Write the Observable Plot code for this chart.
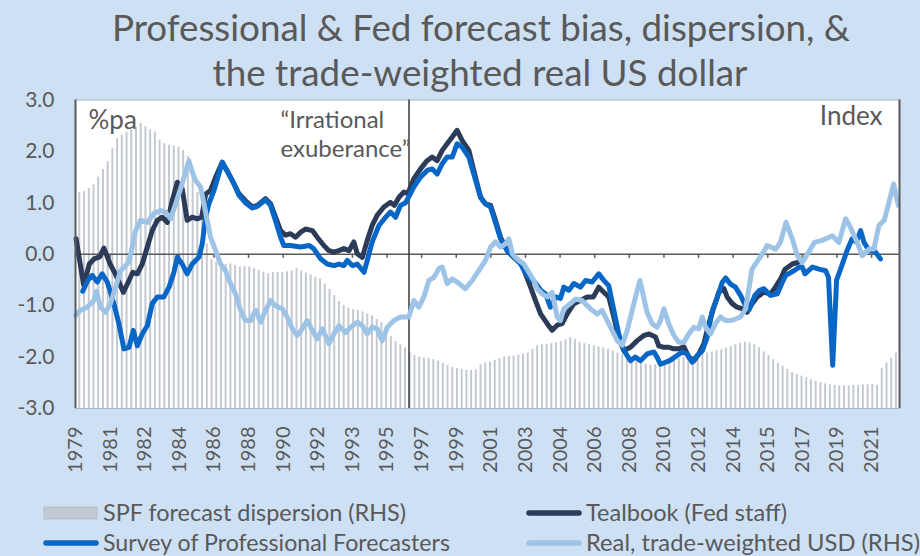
<!DOCTYPE html>
<html>
<head>
<meta charset="utf-8">
<script src="https://cdn.jsdelivr.net/npm/d3@7"></script>
<script src="https://cdn.jsdelivr.net/npm/@observablehq/plot@0.6"></script>
<style>
  html, body { margin: 0; padding: 0; background: #cee0f3; }
  #wrap { width: 920px; height: 556px; position: relative; overflow: hidden; background: #cee0f3; font-family: Lato, "Open Sans", sans-serif; color: #595959; }
  svg { display: block; }
  #title { position: absolute; left: 0; top: 0; z-index: 2; }
  #chart { position: absolute; left: 0; top: 80px; z-index: 1; }
  #legend { position: absolute; left: 0; top: 495px; }
</style>
</head>
<body>
<div id="wrap">
  <svg id="title" width="920" height="98">
    <text x="481" y="41" text-anchor="middle" font-family="Lato" font-size="36" fill="#595959" textLength="738" lengthAdjust="spacingAndGlyphs">Professional &amp; Fed forecast bias, dispersion, &amp;</text>
    <text x="480" y="86" text-anchor="middle" font-family="Lato" font-size="36" fill="#595959" textLength="535" lengthAdjust="spacingAndGlyphs">the trade-weighted real US dollar</text>
  </svg>
  <div id="chart"></div>
  <svg id="legend" width="920" height="61"></svg>
</div>
<script>
// ---------- DATA (decimal year, value on the left-hand %pa scale) ----------
const seriesNames = ["SPF forecast dispersion (RHS)", "Tealbook (Fed staff)", "Survey of Professional Forecasters", "Real, trade-weighted USD (RHS)"];

const xTickLabels = ["1979","1981","1982","1984","1986","1988","1990","1992","1993","1995","1997","1999","2001","2003","2004","2006","2008","2010","2012","2014","2015","2017","2019","2021"];
const yTicks = [-3, -2, -1, 0, 1, 2, 3];

// Tealbook (Fed staff) forecast bias
const tealbook = [[1979.2,0.30],[1979.6,-0.60],[1979.9,-0.19],[1980.15,-0.09],[1980.45,-0.05],[1980.67,0.12],[1981.0,-0.19],[1981.3,-0.40],[1981.7,-0.74],[1982.0,-0.51],[1982.2,-0.35],[1982.44,-0.38],[1982.7,-0.19],[1982.97,0.14],[1983.23,0.46],[1983.5,0.66],[1983.76,0.72],[1984.03,0.62],[1984.29,1.04],[1984.56,1.40],[1984.82,1.27],[1985.08,0.66],[1985.35,0.72],[1985.61,0.69],[1985.85,0.72],[1986.06,1.17],[1986.32,1.24],[1986.59,1.50],[1986.94,1.79],[1987.29,1.56],[1987.56,1.37],[1987.82,1.18],[1988.17,1.04],[1988.53,0.92],[1988.8,0.95],[1989.23,1.08],[1989.5,0.98],[1989.76,0.72],[1990.03,0.46],[1990.29,0.37],[1990.55,0.40],[1990.82,0.33],[1991.09,0.43],[1991.35,0.49],[1991.71,0.46],[1991.97,0.33],[1992.32,0.17],[1992.59,0.07],[1992.85,0.04],[1993.12,0.07],[1993.38,0.11],[1993.65,0.07],[1993.91,0.24],[1994.09,0.01],[1994.36,-0.06],[1994.62,0.27],[1994.88,0.56],[1995.15,0.76],[1995.5,0.92],[1995.85,1.01],[1996.05,0.95],[1996.3,1.11],[1996.56,1.21],[1996.77,1.18],[1997.09,1.47],[1997.44,1.66],[1997.79,1.82],[1998.06,1.89],[1998.32,1.82],[1998.59,2.02],[1998.85,2.15],[1999.12,2.28],[1999.38,2.41],[1999.65,2.21],[2000.0,2.02],[2000.26,1.63],[2000.62,1.11],[2000.88,0.98],[2001.15,0.95],[2001.41,0.66],[2001.68,0.33],[2002.03,0.07],[2002.38,-0.06],[2002.74,-0.15],[2003.0,-0.38],[2003.27,-0.64],[2003.53,-0.90],[2003.8,-1.16],[2004.15,-1.35],[2004.41,-1.48],[2004.68,-1.38],[2004.94,-1.35],[2005.21,-1.16],[2005.56,-0.96],[2005.91,-0.90],[2006.27,-0.83],[2006.6,-0.83],[2006.88,-0.64],[2007.15,-0.74],[2007.41,-0.83],[2007.68,-1.22],[2007.94,-1.64],[2008.21,-1.87],[2008.56,-1.81],[2008.92,-1.68],[2009.27,-1.58],[2009.55,-1.55],[2009.89,-1.61],[2010.06,-1.78],[2010.33,-1.81],[2010.6,-1.81],[2010.86,-1.84],[2011.12,-1.84],[2011.39,-1.80],[2011.65,-2.0],[2011.92,-2.07],[2012.18,-1.94],[2012.45,-1.74],[2012.71,-1.35],[2012.98,-1.03],[2013.24,-0.74],[2013.51,-0.67],[2013.68,-0.83],[2013.95,-0.96],[2014.21,-1.03],[2014.48,-1.06],[2014.74,-1.13],[2015.01,-0.96],[2015.27,-0.83],[2015.62,-0.74],[2015.98,-0.77],[2016.24,-0.64],[2016.51,-0.48],[2016.75,-0.29],[2017.13,-0.19],[2017.42,-0.16]];

// Survey of Professional Forecasters forecast bias
const spf = [[1979.55,-0.72],[1979.8,-0.52],[1980.05,-0.41],[1980.32,-0.54],[1980.58,-0.38],[1980.85,-0.54],[1981.2,-0.96],[1981.47,-1.36],[1981.73,-1.84],[1982.0,-1.81],[1982.23,-1.48],[1982.44,-1.78],[1982.7,-1.55],[1982.97,-1.39],[1983.23,-0.96],[1983.5,-0.83],[1983.85,-0.83],[1984.12,-0.64],[1984.38,-0.35],[1984.56,-0.06],[1984.82,-0.19],[1985.08,-0.38],[1985.35,-0.19],[1985.7,-0.06],[1985.88,0.20],[1986.06,0.72],[1986.23,0.98],[1986.5,1.24],[1986.94,1.79],[1987.29,1.56],[1987.56,1.37],[1987.82,1.15],[1988.17,1.0],[1988.53,0.90],[1988.8,0.93],[1989.23,1.06],[1989.5,0.95],[1989.76,0.65],[1990.03,0.33],[1990.2,0.17],[1990.55,0.17],[1991.09,0.14],[1991.55,0.17],[1991.8,0.10],[1992.15,-0.09],[1992.5,-0.19],[1992.85,-0.22],[1993.12,-0.19],[1993.38,-0.22],[1993.56,-0.12],[1993.83,-0.22],[1994.09,-0.19],[1994.45,-0.35],[1994.62,-0.12],[1994.88,0.24],[1995.24,0.56],[1995.59,0.72],[1995.85,0.82],[1996.12,0.72],[1996.38,0.95],[1996.65,1.0],[1996.85,1.14],[1997.09,1.31],[1997.44,1.50],[1997.79,1.63],[1998.06,1.66],[1998.32,1.56],[1998.59,1.76],[1998.85,1.89],[1999.12,1.89],[1999.38,2.15],[1999.65,2.08],[2000.0,1.89],[2000.26,1.56],[2000.62,1.11],[2000.88,0.98],[2001.15,0.92],[2001.41,0.62],[2001.68,0.30],[2002.03,0.07],[2002.38,-0.06],[2002.74,-0.19],[2003.09,-0.41],[2003.35,-0.51],[2003.55,-0.57],[2003.8,-0.70],[2004.06,-0.77],[2004.32,-1.03],[2004.59,-0.83],[2004.85,-0.86],[2005.03,-0.64],[2005.3,-0.70],[2005.56,-0.57],[2005.91,-0.64],[2006.18,-0.51],[2006.53,-0.54],[2006.88,-0.38],[2007.15,-0.51],[2007.41,-0.61],[2007.68,-1.09],[2007.94,-1.55],[2008.21,-1.87],[2008.56,-2.07],[2008.82,-2.0],[2009.09,-2.07],[2009.44,-1.94],[2009.8,-1.90],[2009.97,-2.0],[2010.15,-2.14],[2010.42,-2.1],[2010.68,-2.06],[2011.03,-1.97],[2011.3,-1.90],[2011.56,-1.94],[2011.83,-2.10],[2012.1,-1.97],[2012.36,-1.88],[2012.62,-1.62],[2012.89,-1.10],[2013.15,-0.85],[2013.42,-0.55],[2013.6,-0.46],[2013.86,-0.58],[2014.12,-0.64],[2014.39,-0.80],[2014.65,-1.0],[2014.84,-1.08],[2015.15,-0.80],[2015.4,-0.70],[2015.63,-0.67],[2015.98,-0.80],[2016.34,-0.77],[2016.6,-0.55],[2016.78,-0.41],[2017.22,-0.32],[2017.5,-0.25],[2017.66,-0.25],[2017.8,-0.38],[2018.2,-0.25],[2018.55,-0.29],[2018.9,-0.32],[2019.05,-0.45],[2019.27,-2.16],[2019.48,-0.50],[2019.69,-0.29],[2020.04,0.08],[2020.3,0.30],[2020.52,0.24],[2020.75,0.46],[2020.93,0.23],[2021.2,0.07],[2021.5,0.06],[2021.8,-0.09]];

// Real, trade-weighted USD (RHS), drawn on the common scale
const realUSD = [[1979.17,-1.19],[1979.43,-1.09],[1979.78,-1.03],[1980.14,-0.90],[1980.28,-0.72],[1980.49,-1.03],[1980.76,-1.13],[1981.02,-0.96],[1981.29,-0.64],[1981.55,-0.32],[1981.82,-0.22],[1982.0,-0.15],[1982.17,0.14],[1982.35,0.46],[1982.61,0.66],[1982.97,0.62],[1983.32,0.79],[1983.67,0.85],[1983.93,0.82],[1984.2,0.69],[1984.47,0.98],[1984.73,1.27],[1985.0,1.60],[1985.17,1.82],[1985.35,1.60],[1985.53,1.43],[1985.79,1.31],[1985.97,0.98],[1986.14,0.66],[1986.32,0.33],[1986.59,0.07],[1986.85,-0.19],[1987.11,-0.32],[1987.38,-0.57],[1987.64,-0.77],[1987.91,-1.09],[1988.17,-1.29],[1988.44,-1.29],[1988.7,-1.09],[1988.97,-1.32],[1989.23,-1.09],[1989.5,-0.90],[1989.76,-1.0],[1990.12,-1.06],[1990.38,-1.22],[1990.65,-1.45],[1990.91,-1.58],[1991.18,-1.45],[1991.44,-1.29],[1991.71,-1.48],[1991.97,-1.65],[1992.24,-1.45],[1992.59,-1.74],[1992.85,-1.55],[1993.12,-1.39],[1993.47,-1.52],[1993.74,-1.42],[1994.09,-1.32],[1994.36,-1.39],[1994.62,-1.55],[1994.88,-1.42],[1995.15,-1.45],[1995.41,-1.68],[1995.68,-1.42],[1996.03,-1.29],[1996.38,-1.22],[1996.82,-1.22],[1997.09,-0.90],[1997.35,-1.03],[1997.62,-0.83],[1997.88,-0.51],[1998.15,-0.45],[1998.41,-0.28],[1998.59,-0.25],[1998.85,-0.57],[1999.12,-0.48],[1999.38,-0.54],[1999.82,-0.67],[2000.18,-0.51],[2000.53,-0.32],[2000.88,-0.12],[2001.15,0.14],[2001.41,0.24],[2001.68,0.14],[2001.94,0.20],[2002.12,0.30],[2002.3,0.01],[2002.47,-0.06],[2002.65,-0.12],[2002.91,-0.19],[2003.18,-0.35],[2003.44,-0.51],[2003.62,-0.67],[2003.88,-0.77],[2004.15,-0.83],[2004.41,-0.74],[2004.68,-1.22],[2004.85,-1.29],[2005.03,-1.06],[2005.38,-0.96],[2005.65,-0.87],[2006.0,-0.90],[2006.27,-1.0],[2006.53,-1.09],[2006.8,-1.16],[2007.06,-1.09],[2007.33,-1.29],[2007.59,-1.48],[2007.86,-1.68],[2008.12,-1.77],[2008.39,-1.48],[2008.65,-1.09],[2008.92,-0.70],[2009.06,-0.51],[2009.18,-0.70],[2009.44,-1.13],[2009.71,-1.35],[2009.97,-1.42],[2010.15,-1.29],[2010.33,-1.06],[2010.59,-1.35],[2010.86,-1.58],[2011.12,-1.71],[2011.39,-1.71],[2011.65,-1.55],[2011.92,-1.42],[2012.18,-1.45],[2012.36,-1.22],[2012.54,-1.42],[2012.8,-1.55],[2013.06,-1.35],[2013.33,-1.22],[2013.59,-1.29],[2013.86,-1.29],[2014.12,-1.26],[2014.39,-1.22],[2014.66,-1.06],[2015.0,-0.29],[2015.37,-0.09],[2015.62,0.05],[2015.8,0.17],[2016.25,0.10],[2016.5,0.23],[2016.8,0.62],[2017.13,0.30],[2017.4,-0.03],[2017.66,-0.16],[2018.0,0.04],[2018.3,0.23],[2018.72,0.27],[2019.25,0.36],[2019.6,0.23],[2019.96,0.69],[2020.2,0.53],[2020.57,0.23],[2020.84,-0.03],[2021.2,0.10],[2021.45,0.10],[2021.72,0.56],[2022.0,0.66],[2022.25,1.01],[2022.5,1.37],[2022.75,0.95]];

// SPF forecast dispersion (RHS), quarterly, first bar at 1979.37
const dispersionStart = 1979.37;
const dispersion = [
  1.20, 1.22, 1.28,
  1.35, 1.50, 1.65, 1.80,
  2.05, 2.25, 2.32, 2.37,
  2.42, 2.47, 2.55, 2.48,
  2.42, 2.38, 2.22, 2.15,
  2.12, 2.10, 2.08, 2.02,
  1.90, 1.60, 1.20, 0.70,
  0.20, -0.10, -0.15, -0.18,
  -0.20, -0.19, -0.22, -0.25,
  -0.24, -0.25, -0.28, -0.32,
  -0.35, -0.38, -0.36, -0.35,
  -0.35, -0.34, -0.32, -0.28,
  -0.33, -0.37, -0.40, -0.45,
  -0.48, -0.58, -0.68, -0.80,
  -0.92, -1.00, -1.05, -1.08,
  -1.09, -1.12, -1.16, -1.20,
  -1.27, -1.33, -1.45, -1.60,
  -1.70, -1.76, -1.82, -1.90,
  -1.97, -2.00, -2.02, -2.03,
  -2.05, -2.08, -2.12, -2.16,
  -2.20, -2.22, -2.24, -2.26,
  -2.26, -2.25, -2.15, -2.12,
  -2.10, -2.06, -2.03, -2.00,
  -1.99, -1.98, -1.96, -1.94,
  -1.92, -1.85, -1.78, -1.76,
  -1.75, -1.74, -1.72, -1.70,
  -1.66, -1.62, -1.66, -1.72,
  -1.74, -1.76, -1.78, -1.80,
  -1.82, -1.85, -1.88, -1.92,
  -1.95, -1.98, -2.02, -2.08,
  -2.12, -2.14, -2.16, -2.15,
  -2.10, -2.08, -2.07, -2.05,
  -2.03, -2.01, -2.00, -1.98,
  -1.96, -1.94, -1.92, -1.90,
  -1.88, -1.86, -1.83, -1.80,
  -1.76, -1.73, -1.71, -1.72,
  -1.76, -1.82, -1.90, -1.97,
  -2.05, -2.12, -2.18, -2.24,
  -2.30, -2.34, -2.37, -2.40,
  -2.44, -2.47, -2.50, -2.52,
  -2.54, -2.55, -2.56, -2.56,
  -2.56, -2.55, -2.55, -2.54,
  -2.54, -2.53, -2.55, -2.22,
  -2.12, -2.02, -1.92
];

// "Irrational exuberance" speech (Dec 1996)
const exuberanceDate = 1996.83;

// ---------- BUILD ----------
const colors = { dispersion: "#c4c9d1", tealbook: "#2c3b58", spf: "#0866c6", usd: "#9dc3e7", text: "#595959" };
const toRows = arr => arr.map(([t, v]) => ({ t, v }));
const dispRows = dispersion.map((v, i) => ({ t: dispersionStart + i * 0.25, v }));
// Excel category axis: a label every 22 months, starting March 1979
const tickDates = xTickLabels.map((_, i) => 1979 + (2 + 22 * i) / 12);
const labelByTick = new Map(tickDates.map((d, i) => [d, xTickLabels[i]]));
const xDomain = [1979 + 2 / 12, 2022.81];

const chart = Plot.plot({
  width: 920,
  height: 415,
  marginLeft: 75,
  marginRight: 21,
  marginTop: 19.5,
  marginBottom: 87,
  style: { background: "transparent", fontFamily: "Lato, sans-serif", fontSize: "20px", color: colors.text },
  x: { type: "linear", domain: xDomain },
  y: { domain: [-3, 3] },
  marks: [
    Plot.frame({ fill: "white", stroke: "#aab6c5", strokeWidth: 1 }),
    Plot.ruleX(dispRows, { x: "t", y1: -3, y2: "v", stroke: colors.dispersion, strokeWidth: 2 }),
    Plot.ruleY([0], { stroke: "#5a5a5a", strokeWidth: 1.5 }),
    Plot.ruleX(tickDates, { y1: 0, y2: -0.08, stroke: "#5a5a5a", strokeWidth: 1.5 }),
    Plot.ruleX([exuberanceDate], { stroke: "#3a3a3a", strokeWidth: 1.5 }),
    Plot.line(toRows(tealbook), { x: "t", y: "v", stroke: colors.tealbook, strokeWidth: 5, strokeLinejoin: "round", strokeLinecap: "round" }),
    Plot.line(toRows(spf), { x: "t", y: "v", stroke: colors.spf, strokeWidth: 5, strokeLinejoin: "round", strokeLinecap: "round" }),
    Plot.line(toRows(realUSD), { x: "t", y: "v", stroke: colors.usd, strokeWidth: 5, strokeLinejoin: "round", strokeLinecap: "round" }),
    Plot.ruleX([xDomain[0]], { stroke: "#5a5a5a", strokeWidth: 2 }),
    Plot.ruleX([xDomain[1]], { stroke: "#5a5a5a", strokeWidth: 2 }),
    Plot.axisY({ ticks: yTicks, tickSize: 0, tickPadding: 21, tickFormat: d => d.toFixed(1), label: null, fontSize: 21, fill: colors.text }),
    Plot.axisX({ ticks: tickDates, tickFormat: d => labelByTick.get(d), tickRotate: -90, tickSize: 0, tickPadding: 18, label: null, fontSize: 20, fill: colors.text }),
    Plot.text(["%pa"], { frameAnchor: "top-left", dx: 13, dy: 11, lineAnchor: "top", textAnchor: "start", fontSize: 26, fill: colors.text }),
    Plot.text(["Index"], { frameAnchor: "top-right", dx: -17, dy: 7, lineAnchor: "top", textAnchor: "end", fontSize: 26, fill: colors.text }),
    Plot.text(["\u201CIrrational\nexuberance\u201D"], { frameAnchor: "top-left", dx: 205, dy: 7, lineAnchor: "top", textAnchor: "start", fontSize: 24, lineHeight: 1.22, fill: colors.text })
  ]
});
document.getElementById("chart").appendChild(chart);

// ---------- LEGEND ----------
const legend = d3.select("#legend");
const legendItems = [
  { name: seriesNames[0], kind: "rect", color: colors.dispersion, x: 44, y: 18, len: 303 },
  { name: seriesNames[1], kind: "line", color: colors.tealbook, x: 527, y: 18, len: 201 },
  { name: seriesNames[2], kind: "line", color: colors.spf, x: 44, y: 48, len: 347 },
  { name: seriesNames[3], kind: "line", color: colors.usd, x: 527, y: 48, len: 334 }
];
for (const it of legendItems) {
  if (it.kind === "rect") {
    legend.append("rect").attr("x", it.x).attr("y", it.y - 6).attr("width", 53).attr("height", 12)
      .attr("fill", it.color).attr("stroke", "#b3b9c2").attr("stroke-width", 0.8);
  } else {
    legend.append("line").attr("x1", it.x + 2).attr("x2", it.x + 52).attr("y1", it.y).attr("y2", it.y)
      .attr("stroke", it.color).attr("stroke-width", 5.5).attr("stroke-linecap", "round");
  }
  legend.append("text").attr("x", it.x + 59).attr("y", it.y + 7.5)
    .attr("font-family", "Lato, sans-serif").attr("font-size", 23).attr("fill", colors.text)
    .attr("textLength", it.len).attr("lengthAdjust", "spacingAndGlyphs")
    .text(it.name);
}
</script>
</body>
</html>
